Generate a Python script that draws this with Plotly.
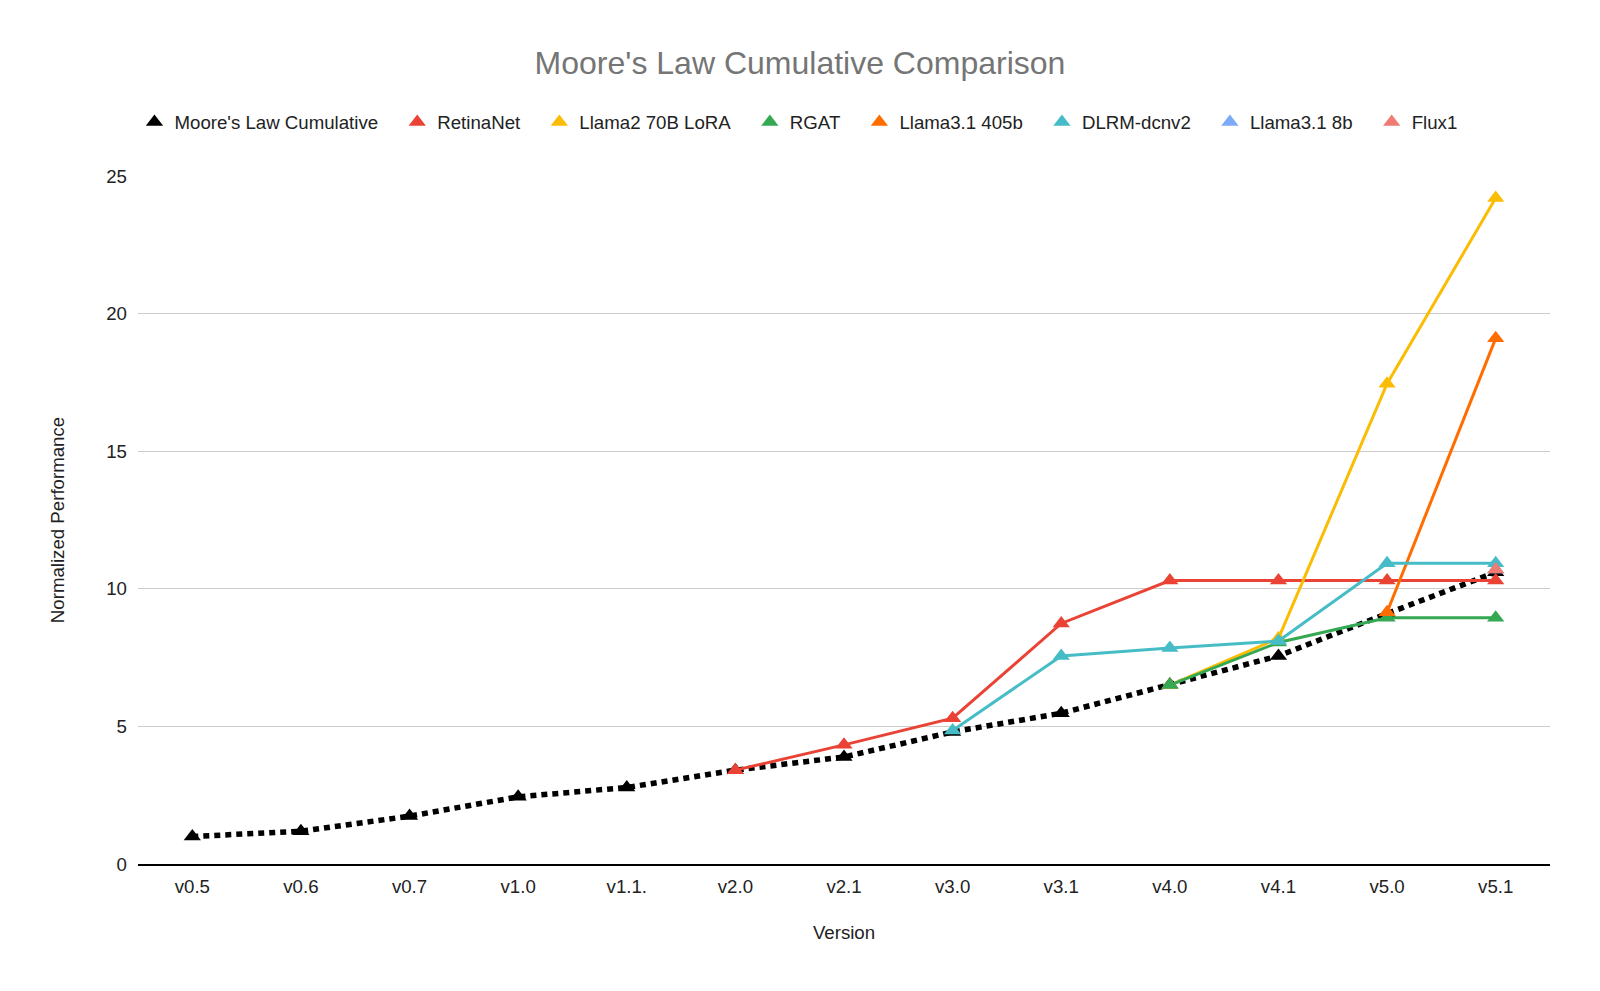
import plotly.graph_objects as go

# versions on the x axis
versions = ["v0.5", "v0.6", "v0.7", "v1.0", "v1.1.", "v2.0", "v2.1",
            "v3.0", "v3.1", "v4.0", "v4.1", "v5.0", "v5.1"]

# normalized performance, None where a benchmark did not exist yet
moore = [1.0, 1.19, 1.74, 2.44, 2.78, 3.41, 3.89, 4.8, 5.48, 6.52, 7.56, 9.1, 10.6]
retinanet = [None, None, None, None, None, 3.41, 4.33, 5.3, 8.74, 10.3, 10.3, 10.3, 10.3]
llama2_70b_lora = [None] * 9 + [6.5, 8.2, 17.45, 24.2]
rgat = [None] * 9 + [6.5, 8.05, 8.95, 8.95]
llama31_405b = [None] * 11 + [9.15, 19.1]
dlrm_dcnv2 = [None] * 7 + [4.85, 7.56, 7.85, 8.1, 10.93, 10.93]
llama31_8b = [None] * 12 + [10.7]
flux1 = [None] * 12 + [10.7]

series = [
    ("Moore's Law Cumulative", moore, "#000000"),
    ("RetinaNet", retinanet, "#EA4335"),
    ("Llama2 70B LoRA", llama2_70b_lora, "#FBBC04"),
    ("RGAT", rgat, "#34A853"),
    ("Llama3.1 405b", llama31_405b, "#FF6D01"),
    ("DLRM-dcnv2", dlrm_dcnv2, "#46BDC6"),
    ("Llama3.1 8b", llama31_8b, "#7BAAF7"),
    ("Flux1", flux1, "#F07B72"),
]

fig = go.Figure()

for name, vals, color in series:
    if name.startswith("Moore"):
        line = dict(color=color, width=5.5, dash="6px,5px")
    else:
        line = dict(color=color, width=3)
    fig.add_trace(go.Scatter(
        x=versions, y=vals, name=name, mode="lines+markers",
        line=line, connectgaps=False,
        marker=dict(symbol="triangle-up", size=15, color=color),
        showlegend=False, cliponaxis=False,
    ))

# legend shows only the triangle, like the original sheet chart
for name, vals, color in series:
    fig.add_trace(go.Scatter(
        x=[None], y=[None], name=name + "\u00a0\u00a0\u2009", mode="markers",
        marker=dict(symbol="triangle-up", size=15, color=color),
    ))

fig.update_layout(
    width=1584, height=975,
    paper_bgcolor="white", plot_bgcolor="white",
    font=dict(family="Liberation Sans, Arial, sans-serif", size=18.67, color="#222222"),
    title=dict(text="Moore's Law Cumulative Comparison", x=0.5, xanchor="center",
               y=0.9436, yanchor="middle",
               font=dict(size=32, color="#757575")),
    margin=dict(l=130, r=42, t=168, b=119),
    legend=dict(orientation="h", x=-0.0025, xanchor="left", y=1.078, yanchor="middle",
                font=dict(size=18.67, color="#222222"), itemwidth=30,
                traceorder="normal"),
    xaxis=dict(title=dict(text="Version", font=dict(size=18.67), standoff=30),
               range=[-0.5, 12.5],
               showline=True, linecolor="#000000", linewidth=2,
               showgrid=False, ticks="", ticklabelstandoff=5,
               tickfont=dict(size=18.67)),
    yaxis=dict(title=dict(text="Normalized Performance", font=dict(size=18.67), standoff=36),
               range=[0, 25], dtick=5, showgrid=True, gridcolor="#cccccc",
               gridwidth=1, zeroline=False, ticks="", ticklabelstandoff=10,
               tickfont=dict(size=18.67)),
)

fig.write_html("out.html")
